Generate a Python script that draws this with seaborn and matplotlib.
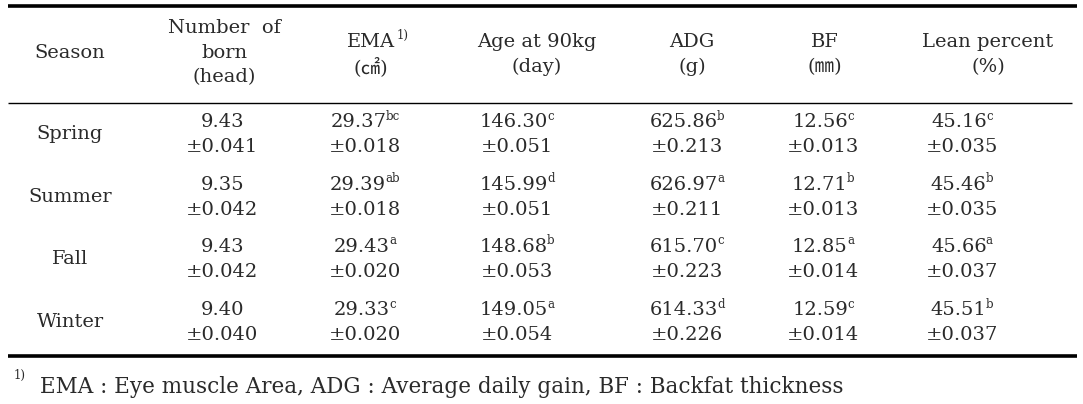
import matplotlib
matplotlib.use("Agg")
import matplotlib.pyplot as plt
import seaborn as sns

# ---- data ----
seasons = ["Spring", "Summer", "Fall", "Winter"]
header_lines = [
    ["Season"],
    ["Number  of", "born", "(head)"],
    ["EMA", "(㎠)"],
    ["Age at 90kg", "(day)"],
    ["ADG", "(g)"],
    ["BF", "(㎜)"],
    ["Lean percent", "(%)"],
]
number_born = ["9.43", "9.35", "9.43", "9.40"]
number_born_se = ["0.041", "0.042", "0.042", "0.040"]
number_born_sig = ["", "", "", ""]
ema = ["29.37", "29.39", "29.43", "29.33"]
ema_se = ["0.018", "0.018", "0.020", "0.020"]
ema_sig = ["bc", "ab", "a", "c"]
age90 = ["146.30", "145.99", "148.68", "149.05"]
age90_se = ["0.051", "0.051", "0.053", "0.054"]
age90_sig = ["c", "d", "b", "a"]
adg = ["625.86", "626.97", "615.70", "614.33"]
adg_se = ["0.213", "0.211", "0.223", "0.226"]
adg_sig = ["b", "a", "c", "d"]
bf = ["12.56", "12.71", "12.85", "12.59"]
bf_se = ["0.013", "0.013", "0.014", "0.014"]
bf_sig = ["c", "b", "a", "c"]
lean = ["45.16", "45.46", "45.66", "45.51"]
lean_se = ["0.035", "0.035", "0.037", "0.037"]
lean_sig = ["c", "b", "a", "b"]
footnote_mark = "1)"
footnote = "EMA : Eye muscle Area, ADG : Average daily gain, BF : Backfat thickness"

columns = [
    (number_born, number_born_se, number_born_sig),
    (ema, ema_se, ema_sig),
    (age90, age90_se, age90_sig),
    (adg, adg_se, adg_sig),
    (bf, bf_se, bf_sig),
    (lean, lean_se, lean_sig),
]

# ---- figure ----
sns.set_theme(style="white")
plt.rcParams["font.family"] = ["DejaVu Serif", "Noto Sans CJK KR", "DejaVu Sans"]
W, H = 1083, 404
fig = plt.figure(figsize=(W / 100, H / 100), dpi=100)
ax = fig.add_axes([0, 0, 1, 1])
ax.set_xlim(0, W)
ax.set_ylim(H, 0)
ax.axis("off")

hdr_x = [70, 224, 371, 537, 692, 825, 988]
val_x = [70, 222, 365, 517, 687, 823, 962]
fs = 14
sfs = 8.5
color = "#2a2a2a"

# rules
ax.plot([8, 1077], [5.5, 5.5], color="black", lw=2.6, solid_capstyle="butt")
ax.plot([8, 1072], [103, 103], color="black", lw=1.0, solid_capstyle="butt")
ax.plot([8, 1077], [355.5, 355.5], color="black", lw=2.6, solid_capstyle="butt")

fig.canvas.draw()
r = fig.canvas.get_renderer()

def px_width(t):
    return t.get_window_extent(renderer=r).width

# header
for i, lines in enumerate(header_lines):
    n = len(lines)
    if n == 1:
        ys = [53]
    elif n == 2:
        ys = [42, 67]
    else:
        ys = [28, 52.5, 77]
    for ln, y in zip(lines, ys):
        ax.text(hdr_x[i], y, ln, ha="center", va="center", fontsize=fs, color=color)

# EMA superscript
tmp = ax.text(0, 0, "EMA", fontsize=fs)
wEMA = px_width(tmp)
tmp.remove()
ax.text(hdr_x[2] + wEMA / 2 + 2, 35, footnote_mark, fontsize=sfs, ha="left", va="center", color=color)

# body
row_y = [122, 185, 247, 310]
for j, s in enumerate(seasons):
    ax.text(val_x[0], row_y[j] + 12, s, ha="center", va="center", fontsize=fs, color=color)
    for c, (vals, ses, sigs) in enumerate(columns):
        x = val_x[c + 1]
        main = ax.text(x, row_y[j], vals[j], ha="left", va="center", fontsize=fs, color=color)
        sig = ax.text(x, row_y[j] - 6, sigs[j], ha="left", va="center", fontsize=sfs, color=color)
        wm = px_width(main) - 1
        ws = px_width(sig) if sigs[j] else 0
        total = wm + ws
        main.set_x(x - total / 2)
        sig.set_x(x - total / 2 + wm)
        ax.text(x, row_y[j] + 25, "±" + ses[j], ha="center", va="center", fontsize=fs, color=color)

# footnote
ax.text(14, 375, footnote_mark, fontsize=sfs, ha="left", va="center", color=color)
ax.text(40, 387, footnote, fontsize=15.5, ha="left", va="center", color=color)

fig.savefig("out.png", dpi=100)
